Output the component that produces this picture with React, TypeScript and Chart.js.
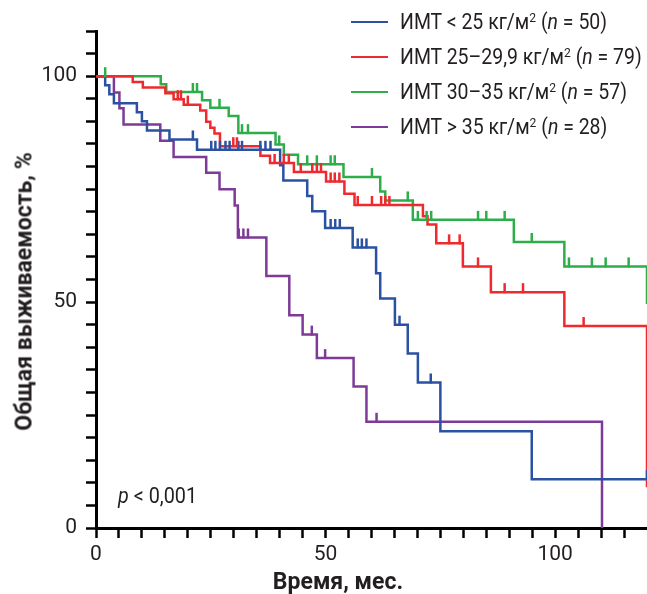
import React, { useEffect, useRef } from 'react';
import { Chart, registerables } from 'chart.js';

Chart.register(...registerables);

// ---------------- data ----------------
const groupLabels = ['ИМТ < 25', 'ИМТ 25–29,9', 'ИМТ 30–35', 'ИМТ > 35'];
const groupCounts = [50, 79, 57, 28];
const groupColors = ['#2B51A3', '#EE2A2F', '#2EAE4A', '#7D3B97'];

const labeledTicks = [0, 50, 100];
const xTitle = 'Время, мес.';
const yTitle = 'Общая выживаемость, %';
const pValueText = '< 0,001';

// BMI < 25
const blueTimes = [0, 2.0, 2.9, 3.9, 8.9, 10.0, 11.1, 16.0, 22.0, 40.1, 40.8, 46.0, 47.1, 49.9, 55.9, 61.0, 61.9, 65.1, 67.9, 70.1, 75.0, 94.9, 120];
const blueSurv = [100, 98, 96, 94, 92, 90, 88, 86, 83.7, 80.3, 76.9, 73.5, 70.1, 66.4, 62.1, 56.4, 50.8, 45.0, 38.6, 32.2, 21.4, 10.8, 10.8];
const blueCensor = [21.1, 25.1, 26.0, 27.0, 28.2, 29.1, 31.0, 31.8, 35.8, 36.9, 38.0, 51.1, 52.1, 53.1, 57.0, 57.9, 58.9, 66.1, 72.9, 120];

// BMI 25–29.9
const redTimes = [0, 8.0, 10.2, 15.1, 16.9, 19.1, 22.7, 24.0, 24.9, 25.8, 27.0, 35.8, 37.9, 43.1, 50.1, 54.1, 56.3, 71.2, 72.2, 74.1, 79.9, 86.0, 102.0, 120];
const redSurv = [100, 98.7, 97.5, 96.2, 94.9, 93.7, 92.4, 89.9, 88.6, 87.3, 84.5, 82.4, 80.8, 78.8, 76.7, 74.0, 71.5, 69.0, 67.2, 63.0, 57.9, 52.2, 44.7, 9.0];
const redCensor = [17.8, 18.5, 20.0, 29.9, 30.7, 38.9, 40.9, 42.0, 44.6, 47.1, 48.1, 49.0, 51.1, 52.0, 53.0, 57.0, 60.1, 62.1, 63.0, 63.9, 76.9, 79.2, 83.2, 89.0, 93.0, 106.2];

// BMI 30–35
const greenTimes = [0, 14.1, 15.3, 23.1, 24.9, 28.9, 31.0, 39.1, 40.9, 44.0, 53.9, 61.9, 63.0, 69.0, 91.0, 102.0, 120];
const greenSurv = [100, 98.2, 96.5, 94.7, 93.0, 91.2, 87.4, 84.9, 82.6, 80.5, 77.7, 74.5, 72.5, 68.2, 63.3, 57.9, 49.6];
const greenCensor = [2.0, 21.1, 22.0, 26.9, 31.8, 33.1, 39.9, 46.0, 48.1, 51.1, 52.0, 60.1, 67.9, 70.1, 72.0, 73.0, 83.2, 85.0, 89.0, 94.9, 103.0, 108.0, 111.0, 116.0];

// BMI > 35
const purpleTimes = [0, 3.9, 5.1, 6.0, 14.0, 16.9, 24.0, 26.9, 30.2, 30.9, 37.1, 42.1, 45.0, 48.1, 56.1, 58.9, 110.2];
const purpleSurv = [100, 96.4, 92.9, 89.3, 85.7, 82.1, 78.6, 75.0, 71.4, 64.3, 55.8, 47.1, 42.8, 37.6, 31.3, 23.5, 0];
const purpleCensor = [31.1, 32.1, 33.1, 47.0, 49.9, 61.1];

const seriesTimes = [blueTimes, redTimes, greenTimes, purpleTimes];
const seriesSurv = [blueSurv, redSurv, greenSurv, purpleSurv];
const seriesCensor = [blueCensor, redCensor, greenCensor, purpleCensor];

// drawing order: red on top, then blue, green, purple (index 0 drawn last)
const drawOrder = [1, 0, 2, 3];

const TEXT = '#231F20';

function levelAt(times: number[], surv: number[], t: number): number {
  let lvl = surv[0];
  for (let i = 0; i < times.length; i++) {
    if (times[i] <= t) lvl = surv[i];
  }
  return lvl;
}

const censorPlugin = {
  id: 'censorTicks',
  afterDatasetsDraw(chart: any) {
    const { ctx } = chart;
    const xs = chart.scales.x;
    const ys = chart.scales.y;
    ctx.save();
    ctx.lineWidth = 2.5;
    ctx.lineCap = 'butt';
    for (let k = drawOrder.length - 1; k >= 0; k--) {
      const g = drawOrder[k];
      ctx.strokeStyle = groupColors[g];
      seriesCensor[g].forEach((t) => {
        const lvl = levelAt(seriesTimes[g], seriesSurv[g], t);
        const px = xs.getPixelForValue(t);
        const py = ys.getPixelForValue(lvl);
        ctx.beginPath();
        ctx.moveTo(px, py + 1);
        ctx.lineTo(px, py - 9);
        ctx.stroke();
      });
    }
    ctx.restore();
  },
};

export default function App() {
  const ref = useRef<HTMLCanvasElement | null>(null);

  useEffect(() => {
    if (!ref.current) return;
    const datasets = drawOrder.map((g) => ({
      label: groupLabels[g],
      data: seriesTimes[g].map((t, i) => ({ x: t, y: seriesSurv[g][i] })),
      borderColor: groupColors[g],
      backgroundColor: groupColors[g],
      borderWidth: 2.5,
      pointRadius: 0,
      stepped: true,
      fill: false,
      tension: 0,
      borderCapStyle: 'butt',
      borderJoinStyle: 'miter',
    }));

    const chart = new Chart(ref.current, {
      type: 'line',
      data: { datasets } as any,
      options: {
        responsive: false,
        animation: false,
        events: [],
        layout: { padding: { top: 31, right: 0, left: 0, bottom: 0 } },
        plugins: {
          legend: { display: false },
          tooltip: { enabled: false },
          title: { display: false },
        },
        scales: {
          x: {
            type: 'linear',
            min: 0,
            max: 120,
            afterFit: (s: any) => {
              s.height = 66;
              s.paddingRight = 0;
            },
            ticks: {
              stepSize: 5,
              autoSkip: false,
              maxRotation: 0,
              padding: 4,
              color: TEXT,
              font: { family: 'Roboto', size: 21 },
              callback: (v: any) => (labeledTicks.includes(Number(v)) ? String(v) : ''),
            },
            grid: {
              drawOnChartArea: false,
              drawTicks: true,
              tickLength: 10,
              tickWidth: 2.5,
              tickColor: (c: any) => (c.tick && c.tick.value === 120 ? 'rgba(0,0,0,0)' : '#000'),
            },
            border: { display: true, color: '#000', width: 3 },
          },
          y: {
            type: 'linear',
            min: 0,
            max: 110,
            afterFit: (s: any) => {
              s.width = 96;
            },
            ticks: {
              stepSize: 5,
              autoSkip: false,
              padding: 9,
              color: TEXT,
              font: { family: 'Roboto', size: 21 },
              callback: (v: any) => (labeledTicks.includes(Number(v)) ? String(v) : ''),
            },
            grid: {
              drawOnChartArea: false,
              drawTicks: true,
              tickLength: 10,
              tickWidth: 2.5,
              tickColor: '#000',
            },
            border: { display: true, color: '#000', width: 3 },
          },
        },
      } as any,
      plugins: [censorPlugin as any],
    });
    return () => chart.destroy();
  }, []);

  const legendTop = 22;
  const legendStep = 35;

  return (
    <div
      style={{
        position: 'fixed',
        left: 0,
        top: 0,
        width: 647,
        height: 594,
        background: '#fff',
        fontFamily: 'Roboto, sans-serif',
        color: TEXT,
        overflow: 'hidden',
      }}
    >
      <canvas ref={ref} width={647} height={594} style={{ position: 'absolute', left: 0, top: 0 }} />

      {groupLabels.map((lab, i) => {
        const cy = legendTop + i * legendStep;
        return (
          <React.Fragment key={lab}>
            <div
              style={{
                position: 'absolute',
                left: 351,
                top: cy - 1.25,
                width: 37,
                height: 2.5,
                background: groupColors[i],
              }}
            />
            <div
              style={{
                position: 'absolute',
                left: 400,
                top: cy - 11,
                fontSize: 22,
                lineHeight: '22px',
                whiteSpace: 'nowrap',
                transform: 'scaleX(0.885)',
                transformOrigin: 'left center',
              }}
            >
              {lab} кг/м
              <span style={{ fontSize: '0.62em', position: 'relative', top: '-0.55em' }}>2</span> (
              <i>n</i> = {groupCounts[i]})
            </div>
          </React.Fragment>
        );
      })}

      <div
        style={{
          position: 'absolute',
          left: 118,
          top: 485,
          fontSize: 22,
          lineHeight: '22px',
          whiteSpace: 'nowrap',
          transform: 'scaleX(0.9)',
          transformOrigin: 'left center',
        }}
      >
        <i>p</i> {pValueText}
      </div>

      <div
        style={{
          position: 'absolute',
          left: 188,
          top: 570,
          width: 300,
          textAlign: 'center',
          fontSize: 23,
          lineHeight: '23px',
          fontWeight: 'bold',
          whiteSpace: 'nowrap',
        }}
      >
        {xTitle}
      </div>

      <div
        style={{
          position: 'absolute',
          left: 24 - 170,
          top: 291 - 11.5,
          width: 340,
          height: 23,
          textAlign: 'center',
          fontSize: 23,
          lineHeight: '23px',
          fontWeight: 'bold',
          whiteSpace: 'nowrap',
          transform: 'rotate(-90deg)',
          transformOrigin: 'center center',
        }}
      >
        {yTitle}
      </div>
    </div>
  );
}
